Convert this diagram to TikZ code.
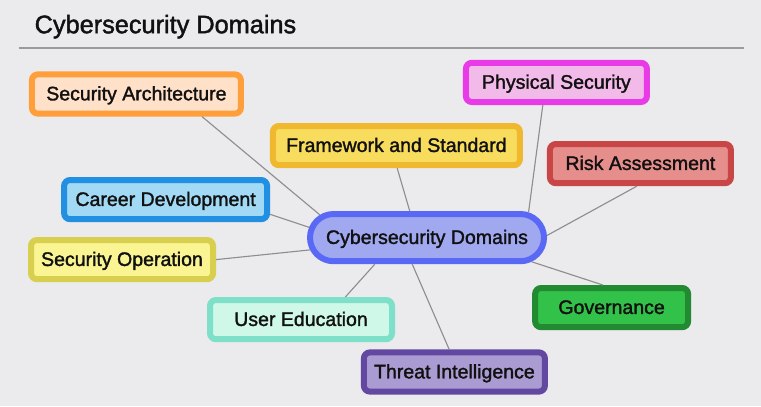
\documentclass[tikz,border=0pt]{standalone}
\usepackage{fontspec}
\setmainfont{Liberation Sans}[FakeBold=1.6]
\usetikzlibrary{shapes.misc}

\definecolor{bgcol}{HTML}{EBEAEC}
\definecolor{linkcol}{HTML}{8E8E8E}
\definecolor{rulecol}{HTML}{9A9A9A}
\definecolor{txtcol}{HTML}{111111}
\definecolor{archB}{HTML}{FF9F3C}\definecolor{archF}{HTML}{FFE1C9}
\definecolor{frameB}{HTML}{F0B82E}\definecolor{frameF}{HTML}{F8DC5E}
\definecolor{physB}{HTML}{E83AE6}\definecolor{physF}{HTML}{F2BAE8}
\definecolor{riskB}{HTML}{C84646}\definecolor{riskF}{HTML}{E68E8C}
\definecolor{careerB}{HTML}{2290E2}\definecolor{careerF}{HTML}{A2D9F4}
\definecolor{secopB}{HTML}{D8CF4E}\definecolor{secopF}{HTML}{FAF492}
\definecolor{hubB}{HTML}{5A68F6}\definecolor{hubF}{HTML}{A0A8F0}
\definecolor{eduB}{HTML}{7EE0C8}\definecolor{eduF}{HTML}{D0F8E9}
\definecolor{threatB}{HTML}{6248A0}\definecolor{threatF}{HTML}{AA9CD2}
\definecolor{govB}{HTML}{228A30}\definecolor{govF}{HTML}{32C24A}

\begin{document}
\begin{tikzpicture}[
  topic/.style={draw, rectangle, rounded corners=0.15cm, line width=0.15cm,
    minimum height=0.98cm, inner sep=0pt, text=txtcol,
    text height=0.9em, text depth=0pt,
    font=\fontsize{13.9}{16}\selectfont},
  hub/.style={draw=hubB, fill=hubF, rounded rectangle, line width=0.15cm,
    minimum width=5.85cm, minimum height=1.18cm, inner sep=0pt, text=txtcol,
    text height=0.9em, text depth=0pt,
    font=\fontsize{13.9}{16}\selectfont},
  link/.style={draw=linkcol, line width=0.8pt}]
\fill[bgcol] (0,0) rectangle (19.025,-10.15);
\useasboundingbox (0,0) rectangle (19.025,-10.15);

% heading
\node[anchor=base west, inner sep=0pt, text=txtcol, font=\fontsize{18}{21}\selectfont] (title) at (0.86,-0.83) {Cybersecurity Domains};
\draw[rulecol, line width=0.8pt] (0.47,-1.2) -- (18.6,-1.2);

\node[hub] (hub) at (10.675,-5.94) {Cybersecurity Domains};

\node[topic, draw=archB, fill=archF, minimum width=5.225cm] (arch) at (3.41,-2.35) {Security Architecture};
\node[topic, draw=frameB, fill=frameF, minimum width=6.175cm] (frame) at (9.91,-3.64) {Framework and Standard};
\node[topic, draw=physB, fill=physF, minimum width=4.525cm] (phys) at (13.91,-2.06) {Physical Security};
\node[topic, draw=riskB, fill=riskF, minimum width=4.525cm] (risk) at (16.01,-4.09) {Risk Assessment};
\node[topic, draw=careerB, fill=careerF, minimum width=5.075cm] (career) at (4.14,-4.99) {Career Development};
\node[topic, draw=secopB, fill=secopF, minimum width=4.55cm] (secop) at (3.05,-6.49) {Security Operation};
\node[topic, draw=eduB, fill=eduF, minimum width=4.55cm] (edu) at (7.525,-7.99) {User Education};
\node[topic, draw=threatB, fill=threatF, minimum width=4.525cm] (threat) at (11.36,-9.3) {Threat Intelligence};
\node[topic, draw=govB, fill=govF, minimum width=3.825cm] (gov) at (15.29,-7.69) {Governance};

\draw[link] (arch.-19) -- (hub.168.6);
\draw[link] (career.-8.4) -- (hub.175.4);
\draw[link] (frame.-88) -- (hub.123);
\draw[link] (phys.-121) -- (hub.14.4);
\draw[link] (risk.-99) -- (hub.1);
\draw[link] (secop.east) -- (hub.186);
\draw[link] (edu.27) -- (hub.207);
\draw[link] (threat.103.5) -- (hub.241);
\draw[link] (gov.111) -- (hub.-13);
\end{tikzpicture}
\end{document}
